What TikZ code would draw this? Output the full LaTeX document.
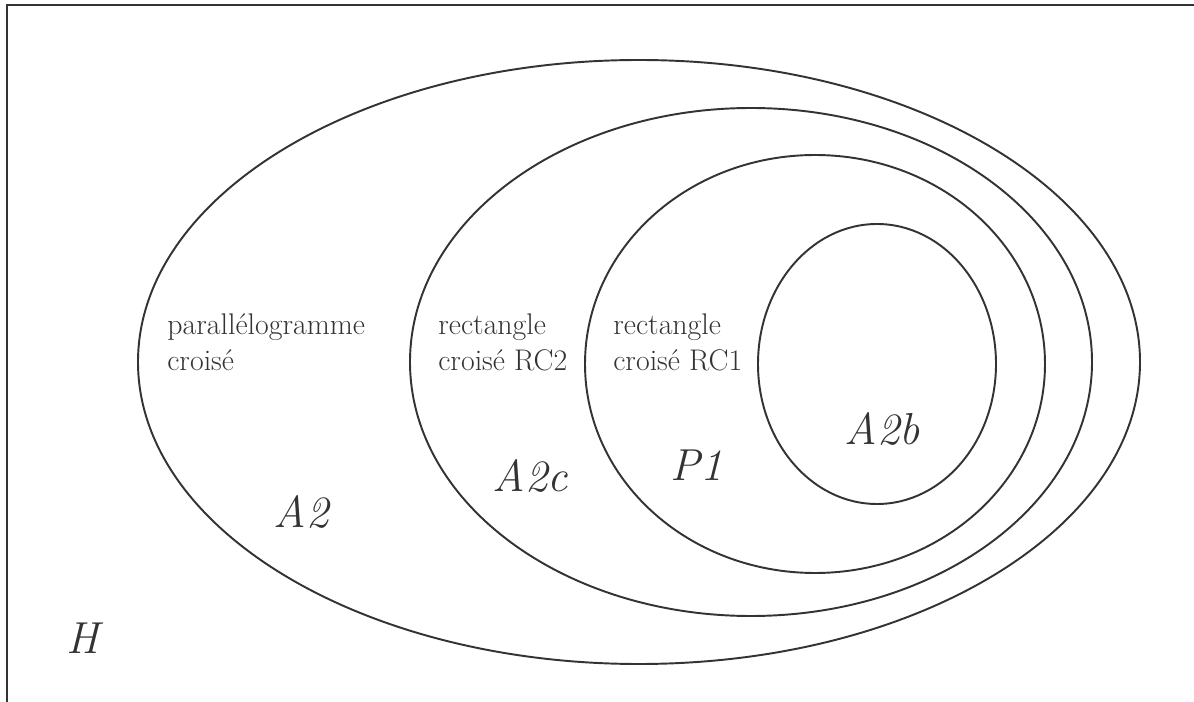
\documentclass[tikz,border=0pt]{standalone}
\usepackage{tikz}
\definecolor{venngrey}{HTML}{333333}

\begin{document}
\begin{tikzpicture}[
    x=0.02cm, y=-0.02cm,
    set/.style={draw=venngrey, line width=1.1pt},
    note/.style={anchor=base west, align=left, inner sep=0pt, text=venngrey,
                 font=\fontsize{17}{20.5}\selectfont},
    tag/.style={anchor=base, inner sep=0pt, text=venngrey,
                font=\fontsize{25.5}{30}\selectfont\itshape}
  ]
    \useasboundingbox (0,0) rectangle (1194,702);
    % frame of H
    \draw[venngrey, line width=1.3pt] (7,702) -- (7,5) -- (1194,5);

    % nested sets
    \draw[set] (639,362) ellipse (501 and 302);
    \draw[set] (751,362) ellipse (341 and 254);
    \draw[set] (815,364) ellipse (230 and 209);
    \draw[set] (877,364) ellipse (119 and 140);

    % texts (base = last line)
    \node[note] (para) at (167,371) {parallélogramme\\croisé};
    \node[note] (rc2)  at (438,371) {rectangle\\croisé RC2};
    \node[note] (rc1)  at (613,371) {rectangle\\croisé RC1};

    \node[tag] (h)   at (83,653)  {H};
    \node[tag] (a2)  at (301,527) {A2};
    \node[tag] (a2c) at (530,492) {A2c};
    \node[tag] (p1)  at (697,480) {P1};
    \node[tag] (a2b) at (882,445) {A2b};
\end{tikzpicture}
\end{document}
